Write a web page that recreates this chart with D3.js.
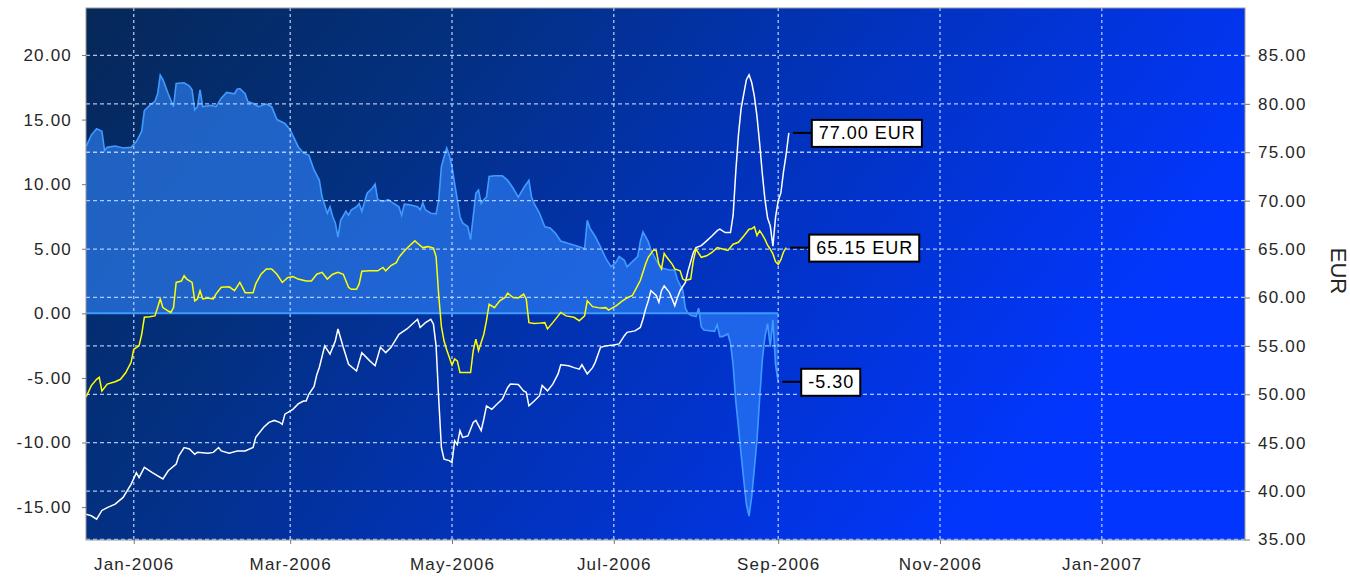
<!DOCTYPE html>
<html><head><meta charset="utf-8">
<script src="https://cdn.jsdelivr.net/npm/d3@7"></script>
<style>
body{margin:0;background:#fff}
svg{display:block}
text{font-family:"Liberation Sans",Arial,sans-serif}
</style>
</head><body>
<svg id="chart" width="1350" height="577"></svg>
<script>
// ---------------- DATA ----------------
const diffSeries = [
["2005-12-14",12.9],["2005-12-16",13.8],["2005-12-18",14.3],["2005-12-20",14.1],["2005-12-21",12.6],["2005-12-22",12.85],["2005-12-25",12.95],["2005-12-28",12.8],["2005-12-31",12.85],["2006-01-02",13.3],["2006-01-04",14.1],["2006-01-05",15.7],["2006-01-07",16.1],["2006-01-09",16.4],["2006-01-10",17.0],["2006-01-11",18.45],["2006-01-12",18.1],["2006-01-14",17.0],["2006-01-16",16.0],["2006-01-17",17.8],["2006-01-20",17.85],["2006-01-22",17.6],["2006-01-23",17.3],["2006-01-24",15.75],["2006-01-25",16.0],["2006-01-26",17.3],["2006-01-27",16.0],["2006-01-30",16.1],["2006-02-01",16.0],["2006-02-03",16.65],["2006-02-05",17.1],["2006-02-08",17.0],["2006-02-09",17.35],["2006-02-10",17.4],["2006-02-12",17.0],["2006-02-13",16.4],["2006-02-15",16.25],["2006-02-17",16.0],["2006-02-20",16.2],["2006-02-22",16.0],["2006-02-24",15.0],["2006-02-27",14.7],["2006-03-01",14.2],["2006-03-04",12.9],["2006-03-06",12.4],["2006-03-08",12.25],["2006-03-10",11.1],["2006-03-12",10.3],["2006-03-13",9.0],["2006-03-15",7.75],["2006-03-16",8.25],["2006-03-17",7.5],["2006-03-18",7.0],["2006-03-19",5.9],["2006-03-20",7.2],["2006-03-22",7.9],["2006-03-23",7.6],["2006-03-24",8.0],["2006-03-26",8.25],["2006-03-27",8.5],["2006-03-28",7.9],["2006-03-30",9.3],["2006-04-01",9.7],["2006-04-02",10.0],["2006-04-03",8.8],["2006-04-05",8.65],["2006-04-07",8.8],["2006-04-09",8.5],["2006-04-11",8.25],["2006-04-12",7.6],["2006-04-13",8.45],["2006-04-15",8.4],["2006-04-18",8.25],["2006-04-19",8.0],["2006-04-20",8.55],["2006-04-21",8.0],["2006-04-23",7.75],["2006-04-25",7.7],["2006-04-26",8.8],["2006-04-27",11.35],["2006-04-28",12.1],["2006-04-29",12.8],["2006-04-30",12.25],["2006-05-01",11.35],["2006-05-02",10.05],["2006-05-03",8.8],["2006-05-04",7.5],["2006-05-05",7.0],["2006-05-07",6.7],["2006-05-08",5.7],["2006-05-09",7.5],["2006-05-10",9.3],["2006-05-11",9.55],["2006-05-12",8.5],["2006-05-13",8.8],["2006-05-14",9.0],["2006-05-15",10.6],["2006-05-17",10.65],["2006-05-20",10.65],["2006-05-22",10.3],["2006-05-24",9.7],["2006-05-26",9.0],["2006-05-28",9.7],["2006-05-30",10.3],["2006-05-31",9.0],["2006-06-01",8.5],["2006-06-03",7.75],["2006-06-05",6.7],["2006-06-07",6.6],["2006-06-09",6.2],["2006-06-11",5.6],["2006-06-14",5.4],["2006-06-18",5.15],["2006-06-20",5.0],["2006-06-21",7.2],["2006-06-22",6.6],["2006-06-24",5.95],["2006-06-26",5.15],["2006-06-28",4.25],["2006-06-30",3.6],["2006-07-02",4.0],["2006-07-03",4.4],["2006-07-05",4.1],["2006-07-06",3.6],["2006-07-08",4.0],["2006-07-10",4.4],["2006-07-11",5.55],["2006-07-12",6.3],["2006-07-14",5.55],["2006-07-15",4.9],["2006-07-17",4.1],["2006-07-19",3.5],["2006-07-22",3.35],["2006-07-24",3.35],["2006-07-25",2.6],["2006-07-27",1.8],["2006-07-28",0.4],["2006-07-29",0.0],["2006-07-30",-0.15],["2006-08-01",-0.25],["2006-08-02",0.4],["2006-08-03",-1.05],["2006-08-04",-1.3],["2006-08-06",-1.35],["2006-08-08",-1.4],["2006-08-09",-0.9],["2006-08-10",-1.8],["2006-08-11",-1.8],["2006-08-13",-1.6],["2006-08-14",-2.3],["2006-08-15",-4.0],["2006-08-16",-6.8],["2006-08-17",-8.8],["2006-08-18",-10.9],["2006-08-19",-12.9],["2006-08-20",-14.8],["2006-08-21",-15.7],["2006-08-22",-14.2],["2006-08-23",-12.0],["2006-08-24",-9.8],["2006-08-25",-6.6],["2006-08-26",-3.6],["2006-08-27",-1.8],["2006-08-28",-0.8],["2006-08-29",-2.6],["2006-08-30",-0.5],["2006-08-31",-4.0],["2006-09-01",-5.3]
];
const whiteSeries = [
["2005-12-14",37.6],["2005-12-16",37.45],["2005-12-18",37.1],["2005-12-20",38.0],["2005-12-22",38.3],["2005-12-25",38.65],["2005-12-28",39.35],["2005-12-31",40.7],["2006-01-02",41.9],["2006-01-03",41.4],["2006-01-05",42.45],["2006-01-08",41.9],["2006-01-12",41.25],["2006-01-14",42.1],["2006-01-17",42.8],["2006-01-18",43.65],["2006-01-20",44.5],["2006-01-22",44.35],["2006-01-24",43.8],["2006-01-25",44.0],["2006-01-29",43.9],["2006-01-31",44.0],["2006-02-02",44.5],["2006-02-03",44.15],["2006-02-06",43.9],["2006-02-09",44.15],["2006-02-12",44.15],["2006-02-15",44.5],["2006-02-16",45.55],["2006-02-19",46.6],["2006-02-21",47.1],["2006-02-23",47.3],["2006-02-25",47.1],["2006-02-26",46.9],["2006-02-27",47.95],["2006-03-02",48.45],["2006-03-04",49.0],["2006-03-06",49.3],["2006-03-07",49.3],["2006-03-08",50.0],["2006-03-10",50.8],["2006-03-11",52.0],["2006-03-12",52.8],["2006-03-14",55.0],["2006-03-16",54.15],["2006-03-18",55.5],["2006-03-19",56.75],["2006-03-21",54.85],["2006-03-23",53.1],["2006-03-26",52.4],["2006-03-28",54.3],["2006-03-31",53.45],["2006-04-02",52.95],["2006-04-04",54.85],["2006-04-06",54.3],["2006-04-08",54.85],["2006-04-11",56.2],["2006-04-14",56.75],["2006-04-18",57.75],["2006-04-19",56.9],["2006-04-21",57.4],["2006-04-23",57.75],["2006-04-24",57.25],["2006-04-25",55.0],["2006-04-26",49.5],["2006-04-27",44.5],["2006-04-28",43.3],["2006-04-30",43.15],["2006-05-01",42.95],["2006-05-02",45.2],["2006-05-03",44.8],["2006-05-04",46.25],["2006-05-05",45.55],["2006-05-07",45.7],["2006-05-09",47.1],["2006-05-10",47.3],["2006-05-12",46.25],["2006-05-13",47.45],["2006-05-14",48.8],["2006-05-16",48.45],["2006-05-18",49.0],["2006-05-20",49.5],["2006-05-22",50.7],["2006-05-23",51.05],["2006-05-26",51.0],["2006-05-28",50.35],["2006-05-29",50.2],["2006-05-30",48.8],["2006-06-01",49.3],["2006-06-03",49.85],["2006-06-04",50.9],["2006-06-06",50.35],["2006-06-08",51.05],["2006-06-10",52.1],["2006-06-11",53.05],["2006-06-14",52.95],["2006-06-16",52.75],["2006-06-18",52.6],["2006-06-19",53.05],["2006-06-21",52.1],["2006-06-23",52.75],["2006-06-24",53.3],["2006-06-26",54.85],["2006-06-28",55.0],["2006-07-01",55.1],["2006-07-03",55.2],["2006-07-05",56.05],["2006-07-06",56.4],["2006-07-09",56.55],["2006-07-11",56.9],["2006-07-12",57.75],["2006-07-13",58.8],["2006-07-14",59.65],["2006-07-15",60.7],["2006-07-17",60.2],["2006-07-18",59.5],["2006-07-19",60.7],["2006-07-20",61.2],["2006-07-22",60.5],["2006-07-23",59.85],["2006-07-24",59.15],["2006-07-25",60.0],["2006-07-26",60.7],["2006-07-28",61.55],["2006-07-29",62.75],["2006-07-31",64.65],["2006-08-01",65.15],["2006-08-03",65.35],["2006-08-05",65.85],["2006-08-07",66.35],["2006-08-09",66.9],["2006-08-10",67.05],["2006-08-12",66.7],["2006-08-14",66.7],["2006-08-15",68.5],["2006-08-16",73.0],["2006-08-17",76.8],["2006-08-18",79.5],["2006-08-19",81.0],["2006-08-20",82.5],["2006-08-21",83.0],["2006-08-22",82.2],["2006-08-23",80.8],["2006-08-24",78.7],["2006-08-25",75.9],["2006-08-26",72.8],["2006-08-27",70.1],["2006-08-28",68.2],["2006-08-29",67.4],["2006-08-30",65.3],["2006-08-31",68.3],["2006-09-01",70.0],["2006-09-02",70.8],["2006-09-03",73.0],["2006-09-04",74.8],["2006-09-05",77.0]
];
const yellowSeries = [
["2005-12-14",49.7],["2005-12-16",50.9],["2005-12-18",51.55],["2005-12-19",51.75],["2005-12-20",50.35],["2005-12-22",51.05],["2005-12-25",51.3],["2005-12-27",51.55],["2005-12-29",52.25],["2005-12-31",53.3],["2006-01-01",54.65],["2006-01-03",55.0],["2006-01-04",56.2],["2006-01-05",57.95],["2006-01-07",58.0],["2006-01-09",58.1],["2006-01-10",58.95],["2006-01-11",59.85],["2006-01-12",58.95],["2006-01-14",58.6],["2006-01-15",58.45],["2006-01-16",58.95],["2006-01-17",61.55],["2006-01-19",61.7],["2006-01-20",62.25],["2006-01-21",61.9],["2006-01-23",61.55],["2006-01-24",59.65],["2006-01-25",59.85],["2006-01-26",60.7],["2006-01-27",59.85],["2006-01-29",59.95],["2006-01-31",59.85],["2006-02-01",60.35],["2006-02-03",61.05],["2006-02-06",61.1],["2006-02-08",60.7],["2006-02-10",61.55],["2006-02-11",61.05],["2006-02-12",60.5],["2006-02-15",60.5],["2006-02-16",61.4],["2006-02-18",62.4],["2006-02-20",62.95],["2006-02-22",62.95],["2006-02-24",62.4],["2006-02-26",61.55],["2006-02-28",62.05],["2006-03-02",62.15],["2006-03-04",61.9],["2006-03-07",61.7],["2006-03-09",61.7],["2006-03-11",62.4],["2006-03-13",62.6],["2006-03-15",61.9],["2006-03-17",62.4],["2006-03-19",62.6],["2006-03-21",62.4],["2006-03-23",61.05],["2006-03-24",60.85],["2006-03-26",60.85],["2006-03-27",61.4],["2006-03-28",62.7],["2006-03-31",62.75],["2006-04-03",62.75],["2006-04-05",63.1],["2006-04-06",62.75],["2006-04-08",63.3],["2006-04-10",63.6],["2006-04-11",64.15],["2006-04-13",64.8],["2006-04-15",65.35],["2006-04-17",65.85],["2006-04-18",65.6],["2006-04-20",65.15],["2006-04-22",65.25],["2006-04-24",65.1],["2006-04-25",64.2],["2006-04-26",60.2],["2006-04-27",57.0],["2006-04-28",55.5],["2006-04-29",54.6],["2006-04-30",53.8],["2006-05-01",53.0],["2006-05-02",53.65],["2006-05-03",53.45],["2006-05-04",52.25],["2006-05-08",52.25],["2006-05-09",54.5],["2006-05-10",55.7],["2006-05-11",54.5],["2006-05-13",56.2],["2006-05-14",57.6],["2006-05-15",59.3],["2006-05-17",58.95],["2006-05-19",59.65],["2006-05-21",60.0],["2006-05-22",60.45],["2006-05-24",60.0],["2006-05-26",59.95],["2006-05-28",60.35],["2006-05-29",59.85],["2006-05-30",57.4],["2006-06-01",57.3],["2006-06-03",57.35],["2006-06-05",57.4],["2006-06-06",56.75],["2006-06-08",57.4],["2006-06-10",58.1],["2006-06-11",58.45],["2006-06-13",58.1],["2006-06-16",57.95],["2006-06-18",57.6],["2006-06-20",58.1],["2006-06-21",59.65],["2006-06-23",59.05],["2006-06-26",58.9],["2006-06-28",58.95],["2006-06-29",58.7],["2006-07-02",59.15],["2006-07-04",59.6],["2006-07-06",59.95],["2006-07-08",60.2],["2006-07-09",60.7],["2006-07-11",61.75],["2006-07-13",63.45],["2006-07-14",64.15],["2006-07-16",64.9],["2006-07-17",64.85],["2006-07-18",63.45],["2006-07-19",62.95],["2006-07-20",64.55],["2006-07-21",64.15],["2006-07-23",63.45],["2006-07-24",62.95],["2006-07-26",62.75],["2006-07-27",61.9],["2006-07-28",61.75],["2006-07-30",61.9],["2006-07-31",63.8],["2006-08-01",65.0],["2006-08-03",64.15],["2006-08-05",64.3],["2006-08-07",64.65],["2006-08-09",65.15],["2006-08-11",65.0],["2006-08-13",64.85],["2006-08-15",65.5],["2006-08-17",65.7],["2006-08-19",66.35],["2006-08-21",67.05],["2006-08-22",67.1],["2006-08-23",67.3],["2006-08-24",66.4],["2006-08-25",66.9],["2006-08-26",66.5],["2006-08-27",66.0],["2006-08-28",65.4],["2006-08-29",65.0],["2006-08-30",64.5],["2006-08-31",63.7],["2006-09-01",63.4],["2006-09-02",63.9],["2006-09-03",64.7],["2006-09-04",65.15]
];
const leftTicks = [-15, -10, -5, 0, 5, 10, 15, 20];
const rightTicks = [35, 40, 45, 50, 55, 60, 65, 70, 75, 80, 85];
const monthTicks = ["2006-01-01","2006-03-01","2006-05-01","2006-07-01","2006-09-01","2006-11-01","2007-01-01"];
const xDomain = ["2005-12-14","2007-02-24"];
const leftDomain = [-17.55, 23.64];
const rightDomain = [35, 89.9];
const rightTitle = "EUR";
const unitSuffix = " EUR";

// ---------------- LAYOUT ----------------
const P = {left: 86, right: 1245, top: 8, bottom: 540};
const parse = d3.timeParse("%Y-%m-%d");
const svg = d3.select("#chart");

const x = d3.scaleTime().domain(xDomain.map(parse)).range([P.left, P.right]);
const yL = d3.scaleLinear().domain(leftDomain).range([P.bottom, P.top]);
const yR = d3.scaleLinear().domain(rightDomain).range([P.bottom - 0.5, P.top]);

const fmt = v => d3.format(".2f")(v).replace("\u2212", "-");
const toPts = s => s.map(([d, v]) => ({date: parse(d), v}));
const diff = toPts(diffSeries), white = toPts(whiteSeries), yellow = toPts(yellowSeries);

// background gradient
const defs = svg.append("defs");
const g = defs.append("linearGradient").attr("id", "bg")
  .attr("x1", 0).attr("y1", 0).attr("x2", 1).attr("y2", 0.35);
[[0, "#062858"], [0.3, "#03307f"], [0.55, "#0232b0"], [0.8, "#0234dc"], [1, "#0236ff"]]
  .forEach(([o, c]) => g.append("stop").attr("offset", o).attr("stop-color", c));
defs.append("clipPath").attr("id", "clip").append("rect")
  .attr("x", P.left).attr("y", P.top).attr("width", P.right - P.left).attr("height", P.bottom - P.top);

svg.append("rect").attr("x", P.left).attr("y", P.top)
  .attr("width", P.right - P.left).attr("height", P.bottom - P.top)
  .attr("fill", "url(#bg)");

const plot = svg.append("g").attr("clip-path", "url(#clip)");

// area (left axis)
const area = d3.area().x(d => x(d.date)).y0(yL(0)).y1(d => yL(d.v));
plot.append("path").datum(diff).attr("d", area)
  .attr("fill", "rgba(50,135,255,0.6)");
plot.append("path").datum(diff)
  .attr("d", d3.line().x(d => x(d.date)).y(d => yL(d.v)))
  .attr("fill", "none").attr("stroke", "#409aff").attr("stroke-width", 1.6);

// grid lines
const grid = plot.append("g");
grid.selectAll("line.h").data(rightTicks).join("line")
  .attr("x1", P.left).attr("x2", P.right)
  .attr("y1", d => yR(d)).attr("y2", d => yR(d))
  .attr("stroke", "#c0d6ff").attr("stroke-opacity", 0.9)
  .attr("stroke-width", 1.3).attr("stroke-dasharray", "4,3");
grid.selectAll("line.v").data(monthTicks.map(parse)).join("line")
  .attr("x1", d => x(d)).attr("x2", d => x(d))
  .attr("y1", P.top).attr("y2", P.bottom)
  .attr("stroke", "#c0d6ff").attr("stroke-opacity", 0.9)
  .attr("stroke-width", 1.3).attr("stroke-dasharray", "3,3");

// zero line of the area
const first = diff[0].date, last = diff[diff.length - 1].date;
plot.append("line").attr("x1", x(first)).attr("x2", x(last))
  .attr("y1", yL(0)).attr("y2", yL(0))
  .attr("stroke", "#3a9cff").attr("stroke-width", 2);

// lines (right axis)
const lineR = d3.line().x(d => x(d.date)).y(d => yR(d.v));
plot.append("path").datum(white).attr("d", lineR)
  .attr("fill", "none").attr("stroke", "#ffffff").attr("stroke-width", 1.5);
plot.append("path").datum(yellow).attr("d", lineR)
  .attr("fill", "none").attr("stroke", "#ffff00").attr("stroke-width", 1.5);

// plot border
svg.append("rect").attr("x", P.left).attr("y", P.top)
  .attr("width", P.right - P.left).attr("height", P.bottom - P.top)
  .attr("fill", "none").attr("stroke", "#9a9a9a").attr("stroke-width", 1);

// axes
const axisFont = {size: "17px", spacing: "1.2px", color: "#262626"};
const leftAxis = svg.append("g").attr("transform", `translate(${P.left},0)`)
  .call(d3.axisLeft(yL).tickValues(leftTicks).tickFormat(fmt).tickSize(4).tickPadding(10));
const rightAxis = svg.append("g").attr("transform", `translate(${P.right},0)`)
  .call(d3.axisRight(yR).tickValues(rightTicks).tickFormat(fmt).tickSize(5).tickPadding(8));
const bottomAxis = svg.append("g").attr("transform", `translate(0,${P.bottom})`)
  .call(d3.axisBottom(x).tickValues(monthTicks.map(parse)).tickFormat(d3.timeFormat("%b-%Y")).tickSize(4).tickPadding(14));
[leftAxis, rightAxis, bottomAxis].forEach(a => {
  a.select(".domain").remove();
  a.selectAll(".tick line").attr("stroke", "#777");
  a.selectAll("text").attr("font-size", axisFont.size).attr("letter-spacing", axisFont.spacing)
    .attr("fill", axisFont.color).attr("font-family", "'Liberation Sans', Arial, sans-serif");
});

svg.append("text").attr("transform", "translate(1331,271) rotate(90)")
  .attr("text-anchor", "middle").attr("font-size", "22px").attr("fill", "#262626")
  .text(rightTitle);

// end-value labels
function endLabel(pt, y, text) {
  const x0 = x(pt.date) + 4, x1 = x(pt.date) + 23;
  svg.append("line").attr("x1", x0).attr("x2", x1).attr("y1", y).attr("y2", y)
    .attr("stroke", "#000").attr("stroke-width", 2);
  const t = svg.append("text").attr("x", x1 + 7).attr("y", y + 6)
    .attr("font-size", "18px").attr("letter-spacing", "1px").attr("fill", "#000").text(text);
  const w = t.node().getComputedTextLength();
  svg.insert("rect", () => t.node()).attr("x", x1).attr("y", y - 13)
    .attr("width", w + 13).attr("height", 27)
    .attr("fill", "#fff").attr("stroke", "#000").attr("stroke-width", 2);
}
const wl = white[white.length - 1], yl = yellow[yellow.length - 1], dl = diff[diff.length - 1];
endLabel(wl, yR(wl.v), fmt(wl.v) + unitSuffix);
endLabel(yl, yR(yl.v), fmt(yl.v) + unitSuffix);
endLabel(dl, yL(dl.v), fmt(dl.v));
</script>
</body></html>
